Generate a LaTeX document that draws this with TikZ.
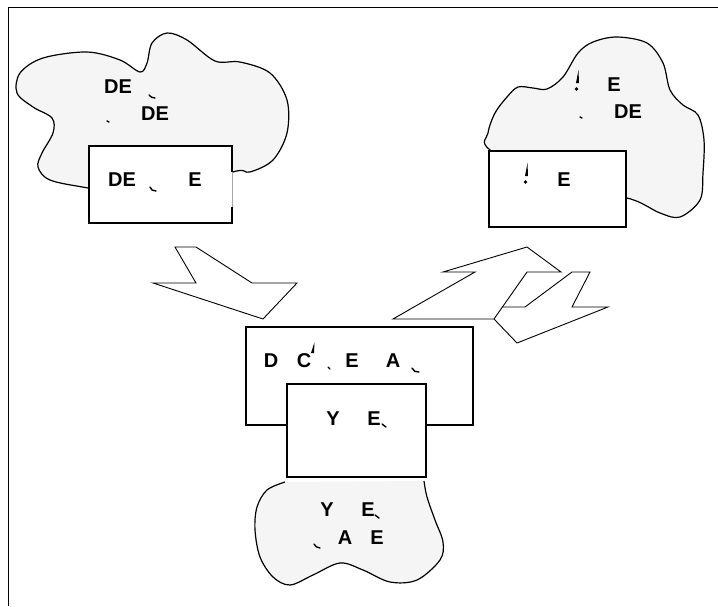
\documentclass[tikz,border=0pt]{standalone}
\usepackage{fontspec}
\setmainfont{Liberation Sans}
\begin{document}
\begin{tikzpicture}[x=1pt,y=-1pt,
  lbl/.style={inner sep=0pt,font=\fontsize{20}{24}\selectfont\bfseries},
  outl/.style={line width=1.2pt,draw=black},
  cloudfill/.style={fill=black!4},
  boxst/.style={draw=black,line width=1.2pt,fill=white},
  mk/.style={line width=1.4pt,line cap=round},
  shp/.style={draw=black,line width=0.9pt,line join=miter}]
\useasboundingbox (0,0) rectangle (718,606);
% frame (top and left only)
\draw[line width=1.5pt] (8.5,606) -- (8.5,7.5) -- (718,7.5);

% ---------- cloud 1 ----------
\path[cloudfill,outl] plot[smooth cycle,tension=0.55] coordinates {
 (88,188) (50,180) (38,167) (42,153) (53,133) (52,118) (33,107) (17,93) (20,73)
 (43,58) (87,52) (120,60) (140,72) (147,63) (152,43) (167,33) (187,40) (215,61)
 (240,62) (270,73) (287,100) (287,133) (273,160) (250,172) (233,172) (160,200)};
\fill[white] (89,146) rectangle (232,223);
\draw[line width=1.2pt] (232,172) -- (232,146) -- (89,146) -- (89,223) -- (232,223) -- (232,207);
\draw[black!35,line width=0.6pt] (232,172) -- (232,207);

% ---------- cloud 2 ----------
\path[cloudfill,outl] plot[smooth cycle,tension=0.55] coordinates {
 (490,150) (488,133) (495,113) (507,97) (518,87) (533,88) (547,89) (563,77)
 (578,53) (593,42) (617,37) (647,43) (663,63) (670,90) (683,105) (698,115)
 (704,140) (703,173) (700,200) (680,217) (660,213) (627,198) (560,190)};
\draw[boxst] (489,151) rectangle (626,227);

% ---------- arrows ----------
\draw[shp] (175,247) -- (196,247) -- (252,283) -- (297,283) -- (263,319) -- (153,283) -- (196,283) -- cycle;
\draw[shp] (443,272) -- (527,247) -- (561,272) -- (527,272) -- (494,319) -- (393,319) -- (475,272) -- cycle;
\draw[shp] (502,307) -- (525,307) -- (572,272) -- (590,272) -- (572,307) -- (608,307) -- (517,343) -- (494,319);

% ---------- bottom ----------
\fill[black!4] plot[smooth,tension=0.55] coordinates {
 (285,482) (267,490) (257,507) (255,530) (260,557) (273,577) (290,585) (313,575)
 (340,563) (363,570) (390,582) (417,580) (440,560) (443,542) (435,520) (427,497) (424,481)} -- cycle;
\draw[outl] plot[smooth,tension=0.55] coordinates {
 (285,482) (267,490) (257,507) (255,530) (260,557) (273,577) (290,585) (313,575)
 (340,563) (363,570) (390,582) (417,580) (440,560) (443,542) (435,520) (427,497) (424,481)};
\draw[boxst] (246,327) rectangle (473,425);
\draw[boxst] (287,384) rectangle (426,477);

% ---------- texts ----------
\node[lbl] (c1a) at (118,87) {DE};
\node[lbl] (c1b) at (155,114) {DE};
\node[lbl] (b1a) at (122,180) {DE};
\node[lbl] (b1b) at (195,180) {E};
\node[lbl] (c2a) at (614,85) {E};
\node[lbl] (c2b) at (628,112) {DE};
\node[lbl] (b2a) at (564,180) {E};
\node[lbl] (b3a) at (271,361) {D};
\node[lbl] (b3b) at (304,361) {C};
\node[lbl] (b3c) at (352,361) {E};
\node[lbl] (b3d) at (393,361) {A};
\node[lbl] (b4a) at (333,419) {Y};
\node[lbl] (b4b) at (374,419) {E};
\node[lbl] (c3a) at (327,510) {Y};
\node[lbl] (c3b) at (368,510) {E};
\node[lbl] (c3c) at (345,538) {A};
\node[lbl] (c3d) at (377,538) {E};

% ---------- glyph fragments ----------
\draw[mk] (149,95) to[bend right=25] (155,98);
\draw[mk] (107,121) -- (109,122);
\draw[mk] (150,187) to[bend right=40] (156,191);
\draw[mk] (580,117) -- (582,118);
\draw[mk] (328,367) -- (330,369);
\draw[mk] (412,368) to[bend right=40] (419,372);
\draw[mk] (382,424) -- (386,427);
\draw[mk] (375,515) -- (379,518);
\draw[mk] (314,544) to[bend right=30] (320,548);
% wedge + dot marks
\fill (576,83) -- (578.5,70) -- (579,83) -- cycle; \fill (576.5,89) circle (1.8);
\fill (525,176) -- (527.5,163) -- (528,176) -- cycle; \fill (525.5,182) circle (1.8);
\fill (311,353) -- (314.5,342) -- (314,353) -- cycle;
\end{tikzpicture}
\end{document}
